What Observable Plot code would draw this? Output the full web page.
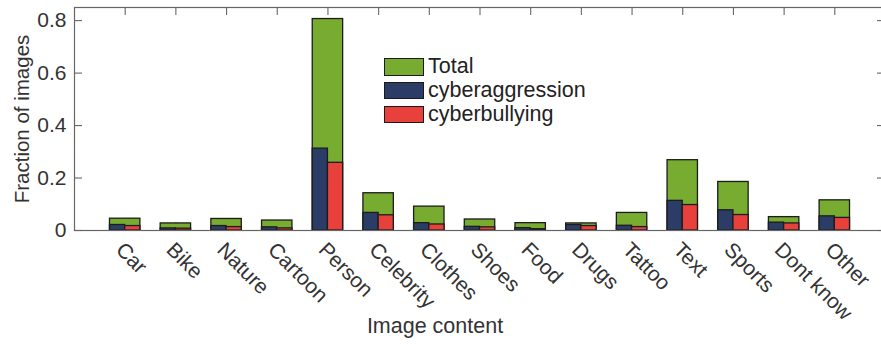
<!DOCTYPE html>
<html>
<head>
<meta charset="utf-8">
<script src="https://cdn.jsdelivr.net/npm/d3@7"></script>
<script src="https://cdn.jsdelivr.net/npm/@observablehq/plot@0.6"></script>
<style>
  html, body { margin: 0; padding: 0; background: #fff; }
  #chart { position: relative; width: 881px; height: 344px; overflow: hidden; font-family: "Liberation Sans", Arial, Helvetica, sans-serif; }
  .legend { position: absolute; left: 384px; top: 55px; }
  .legend .row { display: flex; align-items: center; height: 23.8px; }
  .legend .sw { width: 38px; height: 15.5px; border: 1.3px solid #1a1a1a; margin-right: 4px; }
  .legend .lab { font-size: 21.5px; color: #222; line-height: 1; }
</style>
</head>
<body>
<div id="chart"></div>
<script>
// Share of images by content type
const categories = ["Car", "Bike", "Nature", "Cartoon", "Person", "Celebrity", "Clothes", "Shoes", "Food", "Drugs", "Tattoo", "Text", "Sports", "Dont know", "Other"];
const total      = [0.045, 0.027, 0.044, 0.038, 0.806, 0.142, 0.091, 0.042, 0.028, 0.027, 0.067, 0.268, 0.185, 0.051, 0.115];
const aggression = [0.021, 0.008, 0.017, 0.012, 0.312, 0.067, 0.028, 0.014, 0.009, 0.021, 0.018, 0.113, 0.077, 0.030, 0.054];
const bullying   = [0.017, 0.007, 0.013, 0.008, 0.258, 0.058, 0.023, 0.012, 0.005, 0.017, 0.013, 0.097, 0.059, 0.027, 0.048];
const yTicks = [0, 0.2, 0.4, 0.6, 0.8];
const seriesNames = ["Total", "cyberaggression", "cyberbullying"];
const colors = ["#77ac30", "#2b3d66", "#e8403b"];

const W = 881, H = 344, mL = 74, mR = -4, mT = 7, mB = 114;
const frameW = W - mL - mR, frameH = H - mT - mB;
const tickLen = 8;
const half = 0.3; // half width of a category's bar group, in x units

const rows = categories.map((c, i) => ({
  name: c, pos: i + 1, total: total[i], aggression: aggression[i], bullying: bullying[i]
}));
const xTicks = rows.map(d => d.pos);
const axisColor = "#666";
const edge = "#1c1c1c";

const plot = Plot.plot({
  width: W, height: H,
  marginLeft: mL, marginRight: mR, marginTop: mT, marginBottom: mB,
  style: { fontFamily: "Liberation Sans, Arial, Helvetica, sans-serif", color: "#333", background: "#fff" },
  x: { type: "linear", domain: [0, categories.length + 1], axis: null },
  y: { domain: [0, 0.85], axis: null },
  marks: [
    // inward tick marks on all four sides (drawn beneath the bars)
    Plot.ruleX(xTicks, { x: d => d, stroke: axisColor, strokeWidth: 1.1, insetBottom: frameH - tickLen }),
    Plot.ruleX(xTicks, { x: d => d, stroke: axisColor, strokeWidth: 1.1, insetTop: frameH - tickLen }),
    Plot.ruleY(yTicks, { y: d => d, stroke: axisColor, strokeWidth: 1.1, insetRight: frameW - tickLen }),
    Plot.ruleY(yTicks, { y: d => d, stroke: axisColor, strokeWidth: 1.1, insetLeft: frameW - tickLen }),
    // bars
    Plot.rect(rows, { x1: d => d.pos - half, x2: d => d.pos + half, y1: 0, y2: "total", fill: colors[0], stroke: edge, strokeWidth: 1.3 }),
    Plot.rect(rows, { x1: d => d.pos - half, x2: d => d.pos, y1: 0, y2: "aggression", fill: colors[1], stroke: edge, strokeWidth: 1.3 }),
    Plot.rect(rows, { x1: d => d.pos, x2: d => d.pos + half, y1: 0, y2: "bullying", fill: colors[2], stroke: edge, strokeWidth: 1.3 }),
    Plot.frame({ stroke: axisColor, strokeWidth: 1.2 }),
    // y tick labels
    Plot.axisY({ ticks: yTicks, tickFormat: d => d === 0 ? "0" : d.toFixed(1), tickSize: 0, tickPadding: 8, fontSize: 21, fill: "#333", label: null }),
    // rotated category labels
    Plot.text(rows, { x: "pos", text: "name", frameAnchor: "bottom", rotate: 45, textAnchor: "start", lineAnchor: "top", dy: 10, fontSize: 21, fill: "#333" }),
    // axis titles
    Plot.text(["Fraction of images"], { frameAnchor: "left", textAnchor: "middle", lineAnchor: "middle", rotate: -90, dx: -52, fontSize: 20.5, fill: "#333" }),
    Plot.text(["Image content"], { frameAnchor: "bottom", textAnchor: "middle", lineAnchor: "middle", dx: -45, dy: 96, fontSize: 21.5, fill: "#333" })
  ]
});

const chart = document.getElementById("chart");
chart.appendChild(plot);

// legend
const legend = document.createElement("div");
legend.className = "legend";
seriesNames.forEach((name, i) => {
  const row = document.createElement("div");
  row.className = "row";
  const sw = document.createElement("div");
  sw.className = "sw";
  sw.style.background = colors[i];
  const lab = document.createElement("span");
  lab.className = "lab";
  lab.textContent = name;
  row.appendChild(sw);
  row.appendChild(lab);
  legend.appendChild(row);
});
chart.appendChild(legend);
</script>
</body>
</html>
